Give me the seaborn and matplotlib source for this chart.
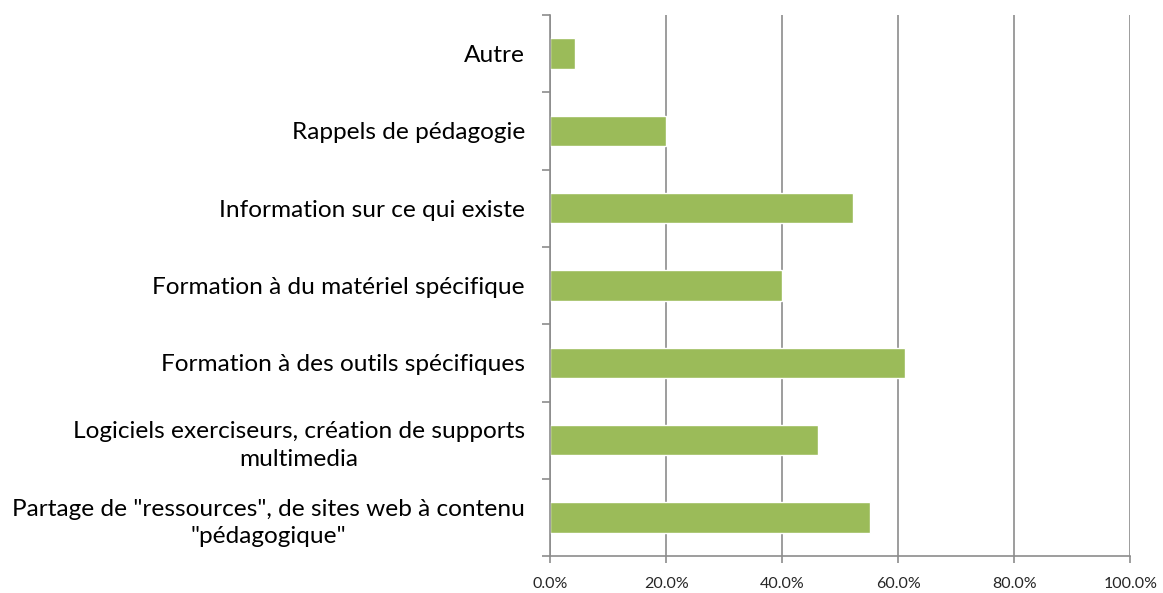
import matplotlib
matplotlib.use("Agg")
import matplotlib.pyplot as plt
import seaborn as sns
import pandas as pd
from matplotlib.ticker import PercentFormatter, FixedLocator

# données
categories = [
    "Autre",
    "Rappels de pédagogie",
    "Information sur ce qui existe",
    "Formation à du matériel spécifique",
    "Formation à des outils spécifiques",
    "Logiciels exerciseurs, création de supports\nmultimedia",
    "Partage de \"ressources\", de sites web à contenu\n\"pédagogique\"",
]
values = [4.3, 20.0, 52.2, 40.0, 61.2, 46.1, 55.1]
x_ticks = [0, 20, 40, 60, 80, 100]

df = pd.DataFrame({"Categorie": categories, "Pourcentage": values})

sns.set_style("white")
plt.rcParams["font.family"] = ["Lato", "DejaVu Sans"]

fig = plt.figure(figsize=(11.63, 5.93), dpi=100)
ax = fig.add_axes([0.473, 0.062, 0.499, 0.913])

sns.barplot(data=df, y="Categorie", x="Pourcentage", order=categories,
            color="#9BBB59", saturation=1, width=0.39, ax=ax)

grid_col = "#8C8C8C"
ax.set_xlim(0, 100)
ax.set_ylim(len(categories) - 0.5, -0.5)
ax.set_xticks(x_ticks)
ax.xaxis.set_major_formatter(PercentFormatter(decimals=1))
ax.grid(axis="x", color=grid_col, linewidth=1.2)
ax.set_axisbelow(True)

for side in ["top", "right"]:
    ax.spines[side].set_visible(False)
for side in ["left", "bottom"]:
    ax.spines[side].set_color(grid_col)
    ax.spines[side].set_linewidth(1.2)

# graduations entre les catégories, comme dans Excel
ax.yaxis.set_minor_locator(FixedLocator([i - 0.5 for i in range(len(categories) + 1)]))
ax.tick_params(axis="y", which="major", length=0, pad=18, labelsize=17.6, labelcolor="#000000")
ax.tick_params(axis="y", which="minor", length=6, color=grid_col, width=1.2, left=True)
ax.tick_params(axis="x", which="major", length=5, color=grid_col, width=1.2, bottom=True,
               labelsize=11.5, pad=10)
for lab in ax.get_yticklabels():
    lab.set_multialignment("center")
    lab.set_linespacing(1.4)

ax.set_xlabel("")
ax.set_ylabel("")

fig.savefig("out.png", dpi=100)
